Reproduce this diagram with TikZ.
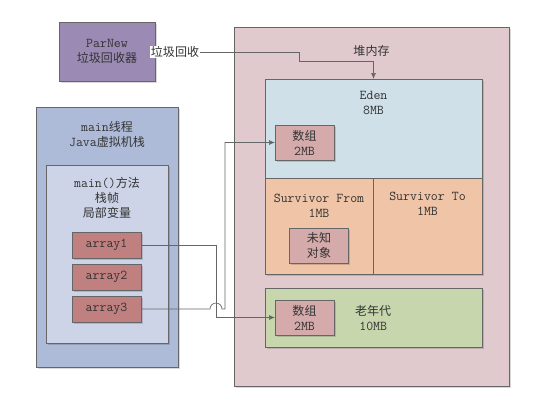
\documentclass[tikz,border=0pt]{standalone}
\usepackage{fontspec}
\newfontfamily\cjk[Scale=0.89]{Noto Sans CJK SC}
\usepackage{xcolor}
\usepackage{tikz}
\usetikzlibrary{arrows.meta, positioning, shadows, calc}
\definecolor{gcpurple}{RGB}{155,138,180}
\definecolor{stackblue}{RGB}{174,187,216}
\definecolor{framecol}{RGB}{205,212,232}
\definecolor{varred}{RGB}{192,128,128}
\definecolor{heappink}{RGB}{224,202,206}
\definecolor{edenblue}{RGB}{207,224,232}
\definecolor{survorange}{RGB}{240,196,166}
\definecolor{objrose}{RGB}{212,170,170}
\definecolor{oldgreen}{RGB}{200,214,174}

\begin{document}
\begin{tikzpicture}[
  x=1pt, y=-1pt,
  font=\fontsize{13.5}{15}\selectfont\ttfamily,
  text=black!80,
  area/.style={draw=black!60, line width=0.7pt, inner sep=0pt, outer sep=0pt,
               drop shadow={shadow xshift=1.5pt, shadow yshift=-1.5pt,
                            fill=black, opacity=0.15}},
  var/.style={area, fill=varred, minimum width=69pt, minimum height=26pt},
  obj/.style={area, fill=objrose, align=center,
              minimum width=59pt, minimum height=35pt},
  title/.style={align=center, inner sep=0pt},
  arr/.style={draw=black!60, line width=0.7pt, -{Latex[length=6pt, width=5pt]}}
]
\useasboundingbox (0,0) rectangle (534,400);

\node[area, fill=gcpurple, align=center, minimum width=96pt, minimum height=59pt]
  (parnew) at (107,51.5) {ParNew\\{\cjk 垃圾回收器}};

\node[area, fill=stackblue, minimum width=142pt, minimum height=260pt] (stack) at (107,237) {};
\node[title, below=14pt of stack.north] (stacktitle) {main{\cjk 线程}\\Java{\cjk 虚拟机栈}};
\node[area, fill=framecol, minimum width=122pt, minimum height=178pt] (frame) at (107,254) {};
\node[title, below=12pt of frame.north] (frametitle)
  {main(){\cjk 方法}\\{\cjk 栈帧}\\{\cjk 局部变量}};
\node[var] (array1) at (106.5,245) {array1};
\node[var, below=6pt of array1] (array2) {array2};
\node[var, below=6pt of array2] (array3) {array3};

\node[area, fill=heappink, minimum width=275pt, minimum height=359pt] (heap) at (371.5,206.5) {};
\node[title, below=18pt of heap.north] (heaptitle) {{\cjk 堆内存}};
\node[area, fill=edenblue, minimum width=217pt, minimum height=99pt] (eden) at (373.5,128.5) {};
\node[title, below=12pt of eden.north] (edentitle) {Eden\\8MB};
\node[obj] (edenarray) at (304.5,142.5) {{\cjk 数组}\\2MB};
\node[area, fill=survorange, minimum width=108pt, minimum height=96pt] (from) at (319,226) {};
\node[area, fill=survorange, minimum width=109pt, minimum height=96pt, right=0pt of from] (to) {};
\node[title, below=16pt of from.north] (fromtitle) {Survivor From\\1MB};
\node[title, below=14pt of to.north] (totitle) {Survivor To\\1MB};
\node[obj] (unknown) at (319,245.5) {{\cjk 未知}\\{\cjk 对象}};
\node[area, fill=oldgreen, minimum width=217pt, minimum height=59pt] (old) at (373.5,317.5) {};
\node[obj] (oldarray) at (304.5,317.5) {{\cjk 数组}\\2MB};
\node[title, right=21pt of oldarray] (oldtitle) {{\cjk 老年代}\\10MB};

\node[fill=white, inner sep=0.5pt] (gc) at (175,52) {{\cjk 垃圾回收}};
\coordinate (gcbend) at (299,61);
\coordinate (a1turn) at (216,0);
\coordinate (a3turn) at (225,0);

\draw[arr] (gc.east) -| (gcbend) -| (eden.north);
\draw[arr] (array1.east) -| (a1turn |- oldarray.west) -- (oldarray.west);
\draw[arr] (array3.east) -- ($(a1turn |- array3.east)+(-6,0)$)
  arc[start angle=180, end angle=0, radius=6pt]
  -- (a3turn |- array3.east) |- (edenarray.west);
\end{tikzpicture}
\end{document}
